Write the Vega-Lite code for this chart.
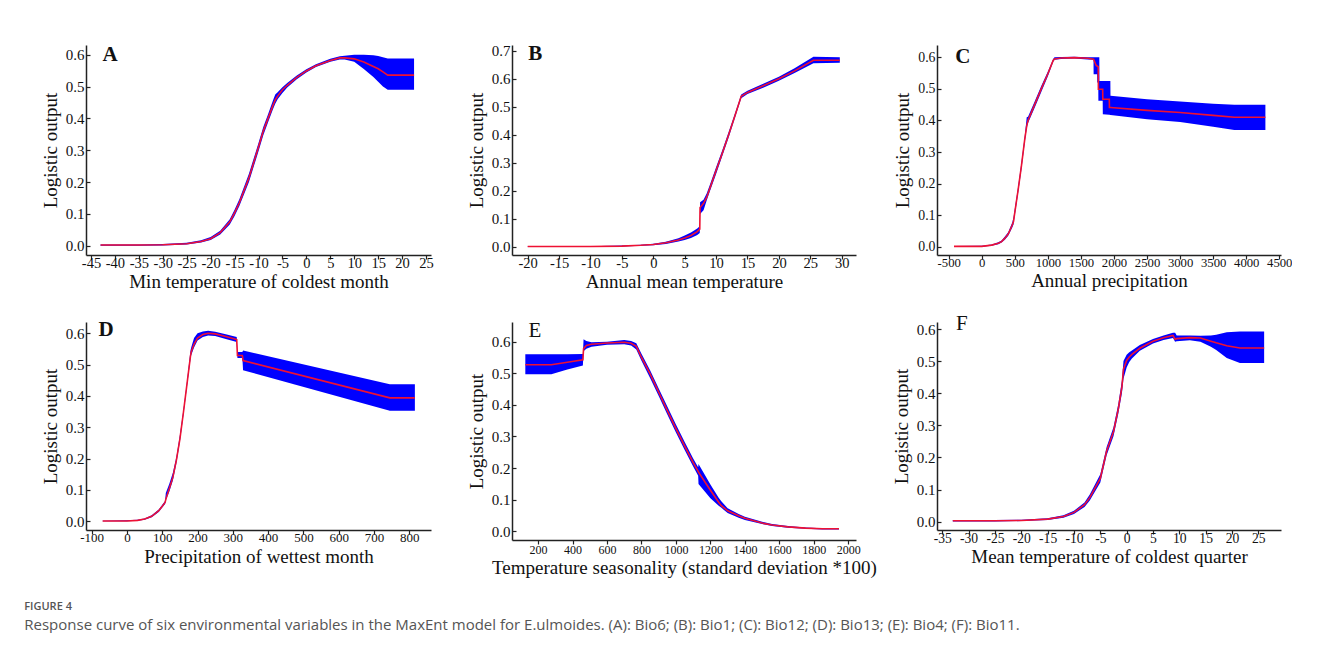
{
  "$schema": "https://vega.github.io/schema/vega-lite/v6.json",
  "background": "white",
  "padding": {"left": 24, "top": 43, "right": 0, "bottom": 0},
  "config": {
    "view": {"stroke": null},
    "font": "Liberation Serif",
    "axis": {
      "grid": false,
      "domainColor": "#222",
      "domainWidth": 1.5,
      "tickColor": "#222",
      "tickWidth": 1.2,
      "tickSize": 4,
      "labelFont": "Liberation Serif",
      "labelFontSize": 15,
      "labelColor": "#111",
      "labelOverlap": false,
      "labelFlush": false,
      "titleFont": "Liberation Serif",
      "titleFontSize": 19,
      "titleFontWeight": "normal",
      "titleColor": "#111"
    },
    "axisX": {"titlePadding": 3, "labelPadding": -3},
    "axisY": {"titlePadding": 5, "tickSize": -4, "labelPadding": 6}
  },
  "title": {
    "text": "FIGURE 4",
    "subtitle": "Response curve of six environmental variables in the MaxEnt model for E.ulmoides. (A): Bio6; (B): Bio1; (C): Bio12; (D): Bio13; (E): Bio4; (F): Bio11.",
    "orient": "bottom",
    "anchor": "start",
    "frame": "bounds",
    "dx": -17,
    "offset": 24,
    "font": "Open Sans",
    "fontSize": 11,
    "fontWeight": 600,
    "color": "#555",
    "subtitleFont": "Open Sans",
    "subtitleFontSize": 15,
    "subtitleColor": "#555",
    "subtitlePadding": 6
  },
  "datasets": {
    "A": [
      {"x": -43, "lo": 0.0, "mean": 0.002, "hi": 0.004},
      {"x": -35, "lo": 0.0, "mean": 0.002, "hi": 0.004},
      {"x": -30, "lo": 0.001, "mean": 0.003, "hi": 0.005},
      {"x": -25, "lo": 0.004, "mean": 0.006, "hi": 0.009},
      {"x": -22, "lo": 0.01, "mean": 0.013, "hi": 0.017},
      {"x": -20, "lo": 0.018, "mean": 0.022, "hi": 0.027},
      {"x": -18, "lo": 0.035, "mean": 0.041, "hi": 0.047},
      {"x": -16, "lo": 0.067, "mean": 0.075, "hi": 0.083},
      {"x": -15, "lo": 0.093, "mean": 0.103, "hi": 0.113},
      {"x": -14, "lo": 0.125, "mean": 0.135, "hi": 0.146},
      {"x": -12, "lo": 0.2, "mean": 0.213, "hi": 0.226},
      {"x": -10, "lo": 0.297, "mean": 0.31, "hi": 0.323},
      {"x": -9, "lo": 0.347, "mean": 0.36, "hi": 0.373},
      {"x": -8, "lo": 0.388, "mean": 0.4, "hi": 0.413},
      {"x": -7, "lo": 0.428, "mean": 0.44, "hi": 0.455},
      {"x": -6.5, "lo": 0.446, "mean": 0.458, "hi": 0.475},
      {"x": -6, "lo": 0.46, "mean": 0.47, "hi": 0.482},
      {"x": -5, "lo": 0.48, "mean": 0.49, "hi": 0.498},
      {"x": -4, "lo": 0.497, "mean": 0.504, "hi": 0.511},
      {"x": -2, "lo": 0.523, "mean": 0.529, "hi": 0.535},
      {"x": 0, "lo": 0.544, "mean": 0.549, "hi": 0.554},
      {"x": 2, "lo": 0.561, "mean": 0.565, "hi": 0.57},
      {"x": 5, "lo": 0.578, "mean": 0.582, "hi": 0.587},
      {"x": 7, "lo": 0.585, "mean": 0.59, "hi": 0.595},
      {"x": 8, "lo": 0.585, "mean": 0.59, "hi": 0.597},
      {"x": 10, "lo": 0.578, "mean": 0.587, "hi": 0.6},
      {"x": 12, "lo": 0.555, "mean": 0.577, "hi": 0.6},
      {"x": 14, "lo": 0.53, "mean": 0.563, "hi": 0.598},
      {"x": 15, "lo": 0.515, "mean": 0.556, "hi": 0.596},
      {"x": 16, "lo": 0.5, "mean": 0.546, "hi": 0.592},
      {"x": 17, "lo": 0.49, "mean": 0.536, "hi": 0.588},
      {"x": 22.5, "lo": 0.49, "mean": 0.536, "hi": 0.588}
    ],
    "B": [
      {"x": -20, "lo": 0.0, "mean": 0.001, "hi": 0.002},
      {"x": -10, "lo": 0.0, "mean": 0.001, "hi": 0.002},
      {"x": -5, "lo": 0.001, "mean": 0.002, "hi": 0.004},
      {"x": -2, "lo": 0.003, "mean": 0.005, "hi": 0.007},
      {"x": 0, "lo": 0.005, "mean": 0.008, "hi": 0.011},
      {"x": 2, "lo": 0.01, "mean": 0.014, "hi": 0.018},
      {"x": 4, "lo": 0.019, "mean": 0.024, "hi": 0.03},
      {"x": 5, "lo": 0.024, "mean": 0.031, "hi": 0.04},
      {"x": 6, "lo": 0.031, "mean": 0.04, "hi": 0.051},
      {"x": 7, "lo": 0.042, "mean": 0.054, "hi": 0.065},
      {"x": 7.4, "lo": 0.049, "mean": 0.063, "hi": 0.073},
      {"x": 7.45, "lo": 0.117, "mean": 0.14, "hi": 0.159},
      {"x": 8, "lo": 0.13, "mean": 0.155, "hi": 0.168},
      {"x": 8.5, "lo": 0.165, "mean": 0.176, "hi": 0.19},
      {"x": 9, "lo": 0.197, "mean": 0.208, "hi": 0.22},
      {"x": 10, "lo": 0.26, "mean": 0.272, "hi": 0.284},
      {"x": 11, "lo": 0.325, "mean": 0.335, "hi": 0.345},
      {"x": 12, "lo": 0.39, "mean": 0.4, "hi": 0.41},
      {"x": 13, "lo": 0.46, "mean": 0.468, "hi": 0.476},
      {"x": 14, "lo": 0.53, "mean": 0.537, "hi": 0.544},
      {"x": 15, "lo": 0.545, "mean": 0.551, "hi": 0.557},
      {"x": 17.5, "lo": 0.568, "mean": 0.575, "hi": 0.582},
      {"x": 20, "lo": 0.593, "mean": 0.6, "hi": 0.607},
      {"x": 22.5, "lo": 0.62, "mean": 0.628, "hi": 0.637},
      {"x": 25.5, "lo": 0.655, "mean": 0.666, "hi": 0.678},
      {"x": 29.7, "lo": 0.657, "mean": 0.666, "hi": 0.677}
    ],
    "C": [
      {"x": -420, "lo": 0.0, "mean": 0.001, "hi": 0.002},
      {"x": 0, "lo": 0.0, "mean": 0.001, "hi": 0.003},
      {"x": 150, "lo": 0.003, "mean": 0.005, "hi": 0.007},
      {"x": 250, "lo": 0.008, "mean": 0.011, "hi": 0.014},
      {"x": 300, "lo": 0.013, "mean": 0.016, "hi": 0.02},
      {"x": 350, "lo": 0.022, "mean": 0.027, "hi": 0.032},
      {"x": 400, "lo": 0.035, "mean": 0.04, "hi": 0.046},
      {"x": 460, "lo": 0.06, "mean": 0.068, "hi": 0.076},
      {"x": 480, "lo": 0.07, "mean": 0.08, "hi": 0.092},
      {"x": 500, "lo": 0.1, "mean": 0.109, "hi": 0.12},
      {"x": 550, "lo": 0.17, "mean": 0.18, "hi": 0.19},
      {"x": 600, "lo": 0.245, "mean": 0.256, "hi": 0.267},
      {"x": 650, "lo": 0.33, "mean": 0.34, "hi": 0.35},
      {"x": 680, "lo": 0.375, "mean": 0.383, "hi": 0.41},
      {"x": 700, "lo": 0.392, "mean": 0.4, "hi": 0.412},
      {"x": 800, "lo": 0.44, "mean": 0.45, "hi": 0.46},
      {"x": 900, "lo": 0.49, "mean": 0.5, "hi": 0.509},
      {"x": 1000, "lo": 0.54, "mean": 0.548, "hi": 0.555},
      {"x": 1080, "lo": 0.585, "mean": 0.59, "hi": 0.595},
      {"x": 1100, "lo": 0.592, "mean": 0.595, "hi": 0.6},
      {"x": 1200, "lo": 0.595, "mean": 0.598, "hi": 0.601},
      {"x": 1400, "lo": 0.596, "mean": 0.599, "hi": 0.602},
      {"x": 1600, "lo": 0.593, "mean": 0.597, "hi": 0.6},
      {"x": 1690, "lo": 0.592, "mean": 0.594, "hi": 0.6},
      {"x": 1692, "lo": 0.546, "mean": 0.594, "hi": 0.6},
      {"x": 1729, "lo": 0.546, "mean": 0.575, "hi": 0.6},
      {"x": 1745, "lo": 0.546, "mean": 0.572, "hi": 0.6},
      {"x": 1747, "lo": 0.52, "mean": 0.572, "hi": 0.6},
      {"x": 1762, "lo": 0.52, "mean": 0.57, "hi": 0.6},
      {"x": 1764, "lo": 0.462, "mean": 0.499, "hi": 0.6},
      {"x": 1778, "lo": 0.462, "mean": 0.499, "hi": 0.6},
      {"x": 1780, "lo": 0.462, "mean": 0.499, "hi": 0.525},
      {"x": 1829, "lo": 0.462, "mean": 0.499, "hi": 0.525},
      {"x": 1831, "lo": 0.42, "mean": 0.467, "hi": 0.525},
      {"x": 1929, "lo": 0.418, "mean": 0.467, "hi": 0.525},
      {"x": 1931, "lo": 0.418, "mean": 0.441, "hi": 0.525},
      {"x": 1945, "lo": 0.417, "mean": 0.441, "hi": 0.525},
      {"x": 1947, "lo": 0.417, "mean": 0.441, "hi": 0.478},
      {"x": 2500, "lo": 0.404, "mean": 0.432, "hi": 0.467},
      {"x": 3000, "lo": 0.395, "mean": 0.425, "hi": 0.46},
      {"x": 3500, "lo": 0.38, "mean": 0.416, "hi": 0.453},
      {"x": 3820, "lo": 0.37, "mean": 0.41, "hi": 0.45},
      {"x": 4290, "lo": 0.37, "mean": 0.41, "hi": 0.45}
    ],
    "D": [
      {"x": -69, "lo": 0.0, "mean": 0.001, "hi": 0.002},
      {"x": 0, "lo": 0.0, "mean": 0.001, "hi": 0.003},
      {"x": 30, "lo": 0.002, "mean": 0.003, "hi": 0.005},
      {"x": 50, "lo": 0.005, "mean": 0.007, "hi": 0.009},
      {"x": 70, "lo": 0.013, "mean": 0.016, "hi": 0.019},
      {"x": 90, "lo": 0.03, "mean": 0.034, "hi": 0.038},
      {"x": 100, "lo": 0.044, "mean": 0.048, "hi": 0.053},
      {"x": 108, "lo": 0.055, "mean": 0.06, "hi": 0.065},
      {"x": 110, "lo": 0.066, "mean": 0.07, "hi": 0.09},
      {"x": 120, "lo": 0.095, "mean": 0.105, "hi": 0.12},
      {"x": 130, "lo": 0.13, "mean": 0.14, "hi": 0.155},
      {"x": 140, "lo": 0.185, "mean": 0.195, "hi": 0.205},
      {"x": 150, "lo": 0.255, "mean": 0.263, "hi": 0.275},
      {"x": 160, "lo": 0.34, "mean": 0.348, "hi": 0.356},
      {"x": 170, "lo": 0.43, "mean": 0.438, "hi": 0.445},
      {"x": 180, "lo": 0.518, "mean": 0.528, "hi": 0.545},
      {"x": 182, "lo": 0.53, "mean": 0.54, "hi": 0.555},
      {"x": 190, "lo": 0.555, "mean": 0.565, "hi": 0.585},
      {"x": 200, "lo": 0.577, "mean": 0.585, "hi": 0.6},
      {"x": 215, "lo": 0.588, "mean": 0.596, "hi": 0.606},
      {"x": 230, "lo": 0.593, "mean": 0.6, "hi": 0.608},
      {"x": 250, "lo": 0.591, "mean": 0.598, "hi": 0.605},
      {"x": 280, "lo": 0.582, "mean": 0.59, "hi": 0.597},
      {"x": 311, "lo": 0.572, "mean": 0.58, "hi": 0.588},
      {"x": 313, "lo": 0.521, "mean": 0.529, "hi": 0.54},
      {"x": 327, "lo": 0.521, "mean": 0.529, "hi": 0.54},
      {"x": 329, "lo": 0.482, "mean": 0.513, "hi": 0.545},
      {"x": 745, "lo": 0.353, "mean": 0.394, "hi": 0.437},
      {"x": 816, "lo": 0.353, "mean": 0.394, "hi": 0.437}
    ],
    "E": [
      {"x": 126, "lo": 0.497, "mean": 0.527, "hi": 0.56},
      {"x": 277, "lo": 0.497, "mean": 0.527, "hi": 0.56},
      {"x": 370, "lo": 0.512, "mean": 0.535, "hi": 0.56},
      {"x": 460, "lo": 0.525, "mean": 0.543, "hi": 0.561},
      {"x": 464, "lo": 0.57, "mean": 0.578, "hi": 0.608},
      {"x": 480, "lo": 0.578, "mean": 0.588, "hi": 0.602},
      {"x": 510, "lo": 0.584, "mean": 0.592, "hi": 0.598},
      {"x": 600, "lo": 0.59, "mean": 0.596, "hi": 0.6},
      {"x": 700, "lo": 0.592, "mean": 0.598, "hi": 0.605},
      {"x": 740, "lo": 0.588, "mean": 0.595, "hi": 0.602},
      {"x": 770, "lo": 0.575, "mean": 0.585, "hi": 0.595},
      {"x": 800, "lo": 0.54, "mean": 0.55, "hi": 0.562},
      {"x": 850, "lo": 0.485, "mean": 0.498, "hi": 0.51},
      {"x": 900, "lo": 0.428, "mean": 0.44, "hi": 0.452},
      {"x": 950, "lo": 0.37, "mean": 0.382, "hi": 0.395},
      {"x": 1000, "lo": 0.313, "mean": 0.325, "hi": 0.338},
      {"x": 1050, "lo": 0.258, "mean": 0.27, "hi": 0.283},
      {"x": 1100, "lo": 0.205, "mean": 0.217, "hi": 0.23},
      {"x": 1129, "lo": 0.176, "mean": 0.19, "hi": 0.203},
      {"x": 1131, "lo": 0.15, "mean": 0.187, "hi": 0.213},
      {"x": 1200, "lo": 0.105, "mean": 0.13, "hi": 0.148},
      {"x": 1248, "lo": 0.081, "mean": 0.092, "hi": 0.106},
      {"x": 1262, "lo": 0.075, "mean": 0.082, "hi": 0.096},
      {"x": 1300, "lo": 0.058, "mean": 0.065, "hi": 0.073},
      {"x": 1364, "lo": 0.043, "mean": 0.049, "hi": 0.055},
      {"x": 1400, "lo": 0.036, "mean": 0.041, "hi": 0.046},
      {"x": 1500, "lo": 0.023, "mean": 0.026, "hi": 0.03},
      {"x": 1558, "lo": 0.017, "mean": 0.02, "hi": 0.023},
      {"x": 1650, "lo": 0.011, "mean": 0.014, "hi": 0.017},
      {"x": 1752, "lo": 0.008, "mean": 0.01, "hi": 0.012},
      {"x": 1850, "lo": 0.006, "mean": 0.008, "hi": 0.01},
      {"x": 1946, "lo": 0.006, "mean": 0.008, "hi": 0.01}
    ],
    "F": [
      {"x": -33, "lo": 0.001, "mean": 0.003, "hi": 0.005},
      {"x": -25, "lo": 0.001, "mean": 0.003, "hi": 0.005},
      {"x": -20, "lo": 0.002, "mean": 0.004, "hi": 0.006},
      {"x": -15, "lo": 0.005, "mean": 0.008, "hi": 0.011},
      {"x": -12, "lo": 0.012, "mean": 0.016, "hi": 0.02},
      {"x": -10, "lo": 0.024, "mean": 0.029, "hi": 0.034},
      {"x": -8, "lo": 0.046, "mean": 0.053, "hi": 0.06},
      {"x": -7, "lo": 0.066, "mean": 0.075, "hi": 0.085},
      {"x": -5, "lo": 0.122, "mean": 0.135, "hi": 0.148},
      {"x": -3.8, "lo": 0.207, "mean": 0.22, "hi": 0.233},
      {"x": -2.5, "lo": 0.266, "mean": 0.28, "hi": 0.294},
      {"x": -1.6, "lo": 0.335, "mean": 0.35, "hi": 0.365},
      {"x": -0.9, "lo": 0.4, "mean": 0.42, "hi": 0.44},
      {"x": -0.6, "lo": 0.445, "mean": 0.475, "hi": 0.5},
      {"x": 0, "lo": 0.48, "mean": 0.502, "hi": 0.52},
      {"x": 0.5, "lo": 0.497, "mean": 0.513, "hi": 0.528},
      {"x": 1, "lo": 0.508, "mean": 0.521, "hi": 0.533},
      {"x": 2.5, "lo": 0.532, "mean": 0.54, "hi": 0.55},
      {"x": 5, "lo": 0.555, "mean": 0.562, "hi": 0.569},
      {"x": 7, "lo": 0.566, "mean": 0.573, "hi": 0.58},
      {"x": 8.8, "lo": 0.572, "mean": 0.58, "hi": 0.588},
      {"x": 9.2, "lo": 0.56, "mean": 0.568, "hi": 0.588},
      {"x": 9.5, "lo": 0.562, "mean": 0.57, "hi": 0.58},
      {"x": 12, "lo": 0.565, "mean": 0.573, "hi": 0.58},
      {"x": 14, "lo": 0.56, "mean": 0.572, "hi": 0.579},
      {"x": 16, "lo": 0.545, "mean": 0.562, "hi": 0.58},
      {"x": 17, "lo": 0.535, "mean": 0.557, "hi": 0.582},
      {"x": 19, "lo": 0.51, "mean": 0.548, "hi": 0.59},
      {"x": 21.5, "lo": 0.494, "mean": 0.541, "hi": 0.592},
      {"x": 26.1, "lo": 0.494, "mean": 0.541, "hi": 0.592}
    ]
  },
  "columns": 3,
  "spacing": {"row": 67, "column": 81},
  "bounds": "flush",
  "concat": [
    {
      "width": 345, "height": 210,
      "data": {"name": "A"},
      "layer": [
        {"mark": {"type": "area", "color": "#0000ff", "opacity": 1},
         "encoding": {
           "x": {"field": "x", "type": "quantitative", "scale": {"domain": [-46.04, 26.04], "zero": false, "nice": false},
                 "axis": {"title": "Min temperature of coldest month", "values": [-45,-40,-35,-30,-25,-20,-15,-10,-5,0,5,10,15,20,25], "tickCount": 40, "labelFontSize": 14.5, "labelExpr": "'' + datum.value", "labelOverlap": false}},
           "y": {"field": "lo", "type": "quantitative", "scale": {"domain": [-0.0292, 0.6305], "zero": false, "nice": false},
                 "axis": {"title": "Logistic output", "values": [0,0.1,0.2,0.3,0.4,0.5,0.6], "tickCount": 40, "labelExpr": "format(datum.value, '.1f')", "labelOverlap": false}},
           "y2": {"field": "hi"}}},
        {"mark": {"type": "line", "color": "#ee1133", "strokeWidth": 1.6},
         "encoding": {"x": {"field": "x", "type": "quantitative"}, "y": {"field": "mean", "type": "quantitative"}}},
        {"data": {"values": [{"label": "A"}]},
         "mark": {"type": "text", "font": "Liberation Serif", "fontSize": 21, "fontWeight": "bold", "color": "#111", "align": "center", "baseline": "middle"},
         "encoding": {"text": {"field": "label"}, "x": {"datum": -41}, "y": {"datum": 0.6}}}
      ]
    },
    {
      "width": 344, "height": 210,
      "data": {"name": "B"},
      "layer": [
        {"mark": {"type": "area", "color": "#0000ff", "opacity": 1},
         "encoding": {
           "x": {"field": "x", "type": "quantitative", "scale": {"domain": [-22.5, 32.28], "zero": false, "nice": false},
                 "axis": {"title": "Annual mean temperature", "values": [-20,-15,-10,-5,0,5,10,15,20,25,30], "tickCount": 40, "labelFontSize": 14.5, "labelExpr": "'' + datum.value", "labelOverlap": false}},
           "y": {"field": "lo", "type": "quantitative", "scale": {"domain": [-0.0296, 0.7204], "zero": false, "nice": false},
                 "axis": {"title": "Logistic output", "values": [0,0.1,0.2,0.3,0.4,0.5,0.6,0.7], "tickCount": 40, "labelExpr": "format(datum.value, '.1f')", "labelOverlap": false}},
           "y2": {"field": "hi"}}},
        {"mark": {"type": "line", "color": "#ee1133", "strokeWidth": 1.6},
         "encoding": {"x": {"field": "x", "type": "quantitative"}, "y": {"field": "mean", "type": "quantitative"}}},
        {"data": {"values": [{"label": "B"}]},
         "mark": {"type": "text", "font": "Liberation Serif", "fontSize": 21, "fontWeight": "bold", "color": "#111", "align": "center", "baseline": "middle"},
         "encoding": {"text": {"field": "label"}, "x": {"datum": -18.8}, "y": {"datum": 0.688}}}
      ]
    },
    {
      "width": 344, "height": 210,
      "data": {"name": "C"},
      "layer": [
        {"mark": {"type": "area", "color": "#0000ff", "opacity": 1},
         "encoding": {
           "x": {"field": "x", "type": "quantitative", "scale": {"domain": [-677, 4526], "zero": false, "nice": false},
                 "axis": {"title": "Annual precipitation", "values": [-500,0,500,1000,1500,2000,2500,3000,3500,4000,4500], "tickCount": 40, "labelFontSize": 12.7, "labelExpr": "'' + datum.value", "labelOverlap": false}},
           "y": {"field": "lo", "type": "quantitative", "scale": {"domain": [-0.0263, 0.639], "zero": false, "nice": false},
                 "axis": {"title": "Logistic output", "values": [0,0.1,0.2,0.3,0.4,0.5,0.6], "tickCount": 40, "labelFontSize": 13.8, "labelExpr": "format(datum.value, '.1f')", "labelOverlap": false}},
           "y2": {"field": "hi"}}},
        {"mark": {"type": "line", "color": "#ee1133", "strokeWidth": 1.6},
         "encoding": {"x": {"field": "x", "type": "quantitative"}, "y": {"field": "mean", "type": "quantitative"}}},
        {"data": {"values": [{"label": "C"}]},
         "mark": {"type": "text", "font": "Liberation Serif", "fontSize": 21, "fontWeight": "bold", "color": "#111", "align": "center", "baseline": "middle"},
         "encoding": {"text": {"field": "label"}, "x": {"datum": -288}, "y": {"datum": 0.6}}}
      ]
    },
    {
      "width": 345, "height": 208,
      "data": {"name": "D"},
      "layer": [
        {"mark": {"type": "area", "color": "#0000ff", "opacity": 1},
         "encoding": {
           "x": {"field": "x", "type": "quantitative", "scale": {"domain": [-116.2, 861.7], "zero": false, "nice": false},
                 "axis": {"title": "Precipitation of wettest month", "values": [-100,0,100,200,300,400,500,600,700,800], "tickCount": 40, "labelFontSize": 13, "labelExpr": "'' + datum.value", "labelOverlap": false}},
           "y": {"field": "lo", "type": "quantitative", "scale": {"domain": [-0.0278, 0.636], "zero": false, "nice": false},
                 "axis": {"title": "Logistic output", "values": [0,0.1,0.2,0.3,0.4,0.5,0.6], "tickCount": 40, "labelExpr": "format(datum.value, '.1f')", "labelOverlap": false}},
           "y2": {"field": "hi"}}},
        {"mark": {"type": "line", "color": "#ee1133", "strokeWidth": 1.6},
         "encoding": {"x": {"field": "x", "type": "quantitative"}, "y": {"field": "mean", "type": "quantitative"}}},
        {"data": {"values": [{"label": "D"}]},
         "mark": {"type": "text", "font": "Liberation Serif", "fontSize": 21, "fontWeight": "bold", "color": "#111", "align": "center", "baseline": "middle"},
         "encoding": {"text": {"field": "label"}, "x": {"datum": -59}, "y": {"datum": 0.609}}}
      ]
    },
    {
      "width": 344, "height": 218,
      "data": {"name": "E"},
      "layer": [
        {"mark": {"type": "area", "color": "#0000ff", "opacity": 1},
         "encoding": {
           "x": {"field": "x", "type": "quantitative", "scale": {"domain": [48.7, 2044.8], "zero": false, "nice": false},
                 "axis": {"title": "Temperature seasonality (standard deviation *100)", "values": [200,400,600,800,1000,1200,1400,1600,1800,2000], "tickCount": 40, "labelFontSize": 12, "labelPadding": 0, "labelExpr": "'' + datum.value", "labelOverlap": false}},
           "y": {"field": "lo", "type": "quantitative", "scale": {"domain": [-0.0275, 0.6623], "zero": false, "nice": false},
                 "axis": {"title": "Logistic output", "values": [0,0.1,0.2,0.3,0.4,0.5,0.6], "tickCount": 40, "labelExpr": "format(datum.value, '.1f')", "labelOverlap": false}},
           "y2": {"field": "hi"}}},
        {"mark": {"type": "line", "color": "#ee1133", "strokeWidth": 1.6},
         "encoding": {"x": {"field": "x", "type": "quantitative"}, "y": {"field": "mean", "type": "quantitative"}}},
        {"data": {"values": [{"label": "E"}]},
         "mark": {"type": "text", "font": "Liberation Serif", "fontSize": 21, "fontWeight": "normal", "color": "#111", "align": "center", "baseline": "middle"},
         "encoding": {"text": {"field": "label"}, "x": {"datum": 181}, "y": {"datum": 0.635}}}
      ]
    },
    {
      "width": 344, "height": 208,
      "data": {"name": "F"},
      "layer": [
        {"mark": {"type": "area", "color": "#0000ff", "opacity": 1},
         "encoding": {
           "x": {"field": "x", "type": "quantitative", "scale": {"domain": [-36.0, 29.3], "zero": false, "nice": false},
                 "axis": {"title": "Mean temperature of coldest quarter", "values": [-35,-30,-25,-20,-15,-10,-5,0,5,10,15,20,25], "tickCount": 40, "labelFontSize": 13.6, "labelExpr": "'' + datum.value", "labelOverlap": false}},
           "y": {"field": "lo", "type": "quantitative", "scale": {"domain": [-0.0258, 0.6218], "zero": false, "nice": false},
                 "axis": {"title": "Logistic output", "values": [0,0.1,0.2,0.3,0.4,0.5,0.6], "tickCount": 40, "labelExpr": "format(datum.value, '.1f')", "labelOverlap": false}},
           "y2": {"field": "hi"}}},
        {"mark": {"type": "line", "color": "#ee1133", "strokeWidth": 1.6},
         "encoding": {"x": {"field": "x", "type": "quantitative"}, "y": {"field": "mean", "type": "quantitative"}}},
        {"data": {"values": [{"label": "F"}]},
         "mark": {"type": "text", "font": "Liberation Serif", "fontSize": 21, "fontWeight": "normal", "color": "#111", "align": "center", "baseline": "middle"},
         "encoding": {"text": {"field": "label"}, "x": {"datum": -31.3}, "y": {"datum": 0.616}}}
      ]
    }
  ]
}
